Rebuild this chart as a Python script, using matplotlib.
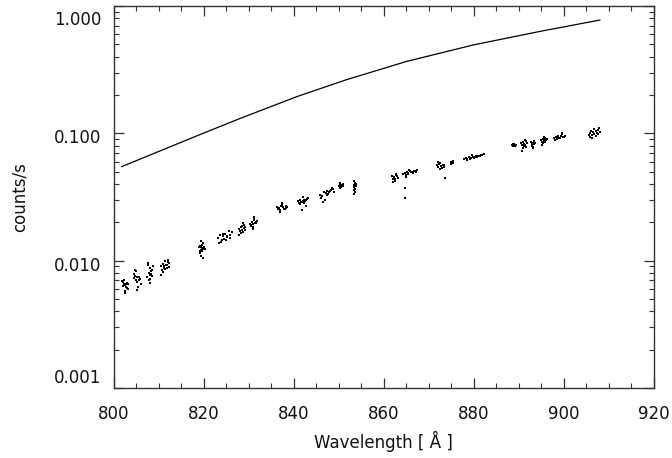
import numpy as np
import matplotlib
matplotlib.use("Agg")
import matplotlib.pyplot as plt
from matplotlib.ticker import LogLocator, MultipleLocator, NullFormatter
from matplotlib.transforms import ScaledTranslation

# smooth curve (top)
curve_wl = [801.8, 810.0, 819.2, 828.0, 840.7, 851.8, 865.0, 880.0, 894.7, 908.0]
curve_cts = [0.0547, 0.0719, 0.0977, 0.1303, 0.194, 0.264, 0.366, 0.495, 0.631, 0.775]

# measured dots, one line per group
dots_wl = [
    802.1, 802.5, 802.8, 802.3, 803.0, 802.6, 802.2, 802.9, 803.2, 802.4, 802.7, 801.9, 802.6, 803.1,
    804.5, 804.9, 805.3, 805.6, 804.7, 805.1, 805.8, 806.1, 805.4, 804.8, 805.0, 805.7, 805.2, 804.6,
    807.6, 808.0, 808.3, 807.8, 808.6, 808.1, 807.5, 808.4, 808.8, 807.9, 808.2, 807.7, 808.5, 808.0,
    810.5, 810.9, 811.2, 811.6, 812.0, 812.3, 810.8, 811.4, 811.8, 812.1, 811.0, 811.5, 811.9, 810.6, 811.3, 812.4,
    819.2, 819.5, 819.8, 819.4, 819.7, 820.0, 819.3, 819.6, 819.9, 819.1, 819.5, 820.2, 819.4, 819.7, 819.0, 819.8,
    823.1, 823.6, 824.0, 824.4, 824.8, 825.3, 825.8, 826.2, 823.9, 824.6, 825.1, 825.6, 823.4, 824.2, 825.0, 825.9,
    827.8, 828.2, 828.5, 828.9, 829.3, 828.1, 828.6, 829.0, 828.4, 827.9, 828.7, 829.2, 828.3, 828.8,
    830.4, 830.8, 831.1, 831.5, 831.9, 830.6, 831.0, 831.3, 831.7, 830.9, 831.2, 830.5, 831.6, 831.0,
    836.4, 836.8, 837.2, 837.6, 838.0, 838.4, 836.9, 837.4, 837.8, 838.2, 837.0, 837.5, 836.6, 838.6,
    841.0, 841.4, 841.8, 842.2, 842.6, 843.0, 841.2, 841.6, 842.0, 842.4, 842.8, 843.2, 841.5, 842.1, 842.7, 841.8,
    845.8, 846.3, 846.7, 847.1, 847.5, 847.9, 848.3, 848.7, 846.0, 846.9, 847.3, 848.0, 848.5, 846.5, 847.6, 848.9,
    850.0, 850.3, 850.6, 850.9, 850.2, 850.7, 850.4, 851.0,
    853.4, 853.6, 853.5, 853.8, 853.3, 853.7, 853.5, 853.6, 853.4, 853.9,
    861.9, 862.3, 862.7, 863.1, 862.1, 862.5, 862.9, 862.4, 862.0, 862.8,
    864.3, 864.7, 865.1, 865.5, 865.9, 866.3, 866.7, 867.1, 867.4, 864.9, 865.3, 865.7, 866.1, 866.5, 866.9, 865.0, 864.7, 864.8,
    871.9, 872.3, 872.7, 873.1, 873.5, 872.1, 872.5, 872.9, 873.3, 872.6, 872.0, 873.6,
    874.9, 875.2, 875.5, 875.0, 875.4, 875.3,
    877.8, 878.2, 878.6, 879.0, 879.4, 879.8, 880.2, 880.6, 881.0, 881.4, 881.8, 882.2, 878.4, 879.2, 880.0, 880.8, 881.6, 879.6,
    888.5, 888.8, 889.1, 888.7, 889.3, 889.0,
    890.6, 890.9, 891.2, 891.5, 891.8, 890.8, 891.1, 891.4, 891.7, 891.0, 891.3, 890.7,
    892.8, 893.1, 893.4, 893.0, 893.3, 892.9, 893.2, 893.5, 893.1,
    895.0, 895.3, 895.6, 895.9, 896.2, 895.2, 895.5, 895.8, 896.1, 895.4, 895.7, 895.1,
    897.8, 898.2, 898.6, 899.0, 899.4, 899.8, 900.2, 898.4, 898.8, 899.2, 899.6, 900.0, 898.0, 899.5,
    905.6, 905.9, 906.2, 906.5, 906.8, 907.1, 907.4, 907.7, 908.0, 905.8, 906.3, 906.7, 907.2, 907.6, 906.0, 907.9,
]
dots_cts = [
    .0068, .0064, .0066, .0071, .0061, .0058, .0063, .0067, .0060, .0066, .0062, .0069, .0056, .0065,
    .0079, .0083, .0074, .0070, .0076, .0068, .0072, .0066, .0062, .0085, .0071, .0075, .0059, .0073,
    .0092, .0087, .0083, .0080, .0085, .0077, .0074, .0079, .0090, .0070, .0067, .0096, .0076, .0072,
    .0090, .0094, .0088, .0092, .0097, .0089, .0084, .0086, .0093, .0101, .0081, .0099, .0087, .0077, .0091, .0095,
    .0131, .0127, .0124, .0121, .0133, .0129, .0118, .0126, .0137, .0114, .0108, .0123, .0142, .0119, .0128, .0104,
    .0150, .0158, .0146, .0155, .0162, .0153, .0160, .0168, .0141, .0149, .0157, .0172, .0138, .0163, .0144, .0151,
    .0176, .0182, .0188, .0179, .0185, .0170, .0173, .0192, .0165, .0160, .0198, .0175, .0184, .0168,
    .0195, .0202, .0208, .0199, .0205, .0188, .0194, .0213, .0201, .0183, .0220, .0190, .0197, .0176,
    .0265, .0258, .0270, .0262, .0253, .0267, .0248, .0275, .0256, .0260, .0240, .0282, .0252, .0263,
    .0292, .0298, .0288, .0301, .0295, .0304, .0281, .0290, .0296, .0285, .0299, .0310, .0276, .0318, .0270, .0248,
    .0330, .0322, .0345, .0338, .0350, .0343, .0358, .0362, .0312, .0300, .0327, .0355, .0370, .0290, .0333, .0348,
    .0385, .0392, .0380, .0398, .0375, .0389, .0406, .0383,
    .0420, .0405, .0392, .0384, .0377, .0368, .0358, .0347, .0335, .0399,
    .0462, .0455, .0470, .0448, .0441, .0437, .0458, .0425, .0414, .0480,
    .0478, .0488, .0495, .0490, .0501, .0496, .0506, .0499, .0512, .0470, .0483, .0511, .0492, .0485, .0503, .0455, .0370, .0312,
    .0560, .0575, .0552, .0568, .0548, .0540, .0585, .0532, .0561, .0520, .0599, .0446,
    .0592, .0585, .0598, .0577, .0605, .0589,
    .0625, .0640, .0633, .0648, .0641, .0655, .0649, .0660, .0668, .0663, .0675, .0690, .0618, .0628, .0637, .0652, .0681, .0670,
    .0805, .0818, .0797, .0790, .0810, .0826,
    .0835, .0850, .0822, .0865, .0840, .0806, .0790, .0812, .0778, .0760, .0880, .0730,
    .0860, .0845, .0831, .0818, .0872, .0800, .0785, .0839, .0760,
    .0890, .0905, .0878, .0915, .0896, .0860, .0872, .0850, .0883, .0835, .0940, .0812,
    .0918, .0930, .0942, .0925, .0950, .0938, .0946, .0905, .0960, .0915, .0985, .0928, .0890, .1010,
    .0975, .1000, .0962, .1020, .0990, .1045, .1010, .1062, .1030, .0930, .0915, .1080, .0950, .0985, .1040, .1095,
]

xticks = [800, 820, 840, 860, 880, 900, 920]
yticks = [0.001, 0.01, 0.1, 1.0]
ylabels = ["0.001", "0.010", "0.100", "1.000"]

plt.rcParams['font.family'] = ['DejaVu Sans']
fig = plt.figure(figsize=(6.72, 4.58), dpi=100)
ax = fig.add_axes([0.169, 0.153, 0.804, 0.834])

ax.plot(curve_wl, curve_cts, color='k', lw=0.9)
ax.plot(dots_wl, dots_cts, 's', ms=1.9, mew=0, color='k')

ax.set_yscale('log')
ax.set_xlim(800, 920)
ax.set_ylim(0.001, 1.0)

ax.set_xticks(xticks)
ax.set_xticklabels([str(v) for v in xticks])
ax.xaxis.set_minor_locator(MultipleLocator(5))
ax.set_yticks(yticks)
ax.set_yticklabels(ylabels)
ax.yaxis.set_minor_locator(LogLocator(base=10, subs=np.arange(2, 10)))
ax.yaxis.set_minor_formatter(NullFormatter())

ax.tick_params(which='both', direction='in', top=True, right=True, color='#333333')
ax.tick_params(which='major', length=7, width=0.9)
ax.tick_params(which='minor', length=3.5, width=0.8)
ax.tick_params(axis='y', labelsize=12, pad=9, labelcolor='#111111')
ax.tick_params(axis='x', labelsize=12, pad=12.5, labelcolor='#111111')
for s in ax.spines.values():
    s.set_color('#333333')
    s.set_linewidth(1.0)

# IDL style: labels sit a little below their ticks, end labels kept inside
labs = ax.get_yticklabels()
shifts = [-1, 3, 3, 5]
for lab, dy in zip(labs, shifts):
    lab.set_transform(lab.get_transform() + ScaledTranslation(0, -dy / 100, fig.dpi_scale_trans))
labs[0].set_va('bottom')
labs[-1].set_va('top')

ax.set_xlabel('Wavelength [ Å ]', fontsize=12, va='center', color='#111111')
ax.xaxis.set_label_coords(0.5, -0.14)
ax.set_ylabel('counts/s', fontsize=12, va='center', color='#111111')
ax.yaxis.set_label_coords(-0.173, 0.5)

fig.savefig('out.png', dpi=100)
